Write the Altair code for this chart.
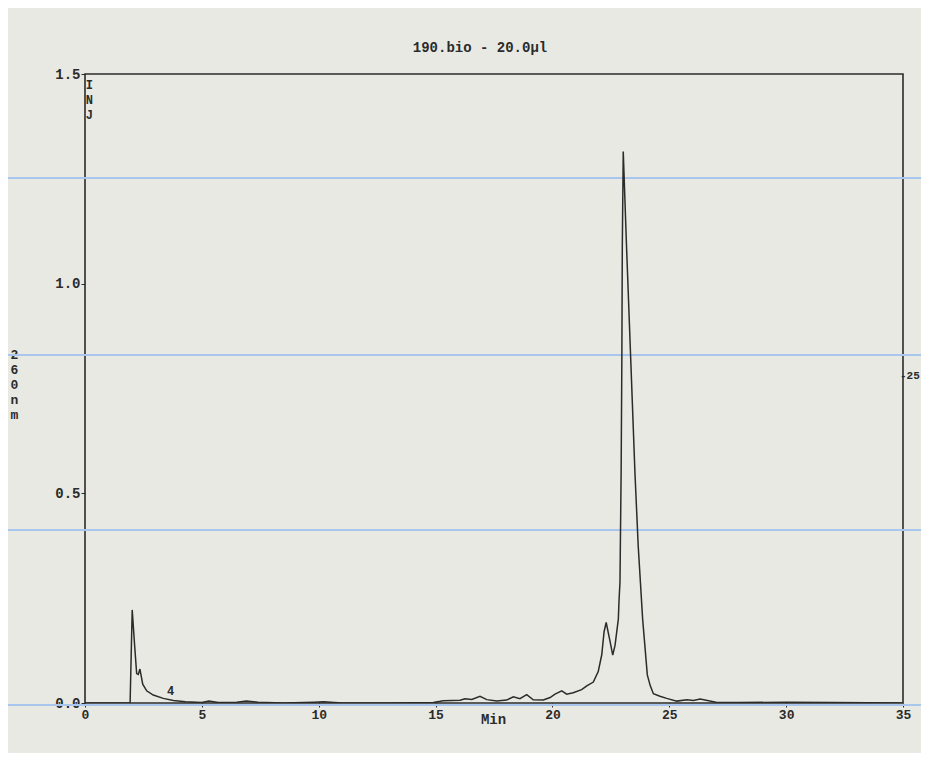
import altair as alt
import pandas as pd

# Retention time (min) and absorbance at 260 nm
minutes = [0.0, 1.0, 1.93, 2.02, 2.12, 2.21, 2.28, 2.35, 2.47, 2.64, 2.92, 3.35, 3.78, 4.3,
           5.0, 5.3, 5.7, 6.5, 6.9, 7.4, 8.5, 9.8, 10.2, 11.0, 13.0, 14.9, 15.2,
           15.33, 16.05, 16.26, 16.55, 16.90, 17.19, 17.62, 18.04, 18.33, 18.61, 18.90,
           19.18, 19.61, 19.90, 20.11, 20.40, 20.61, 20.89, 21.25, 21.47, 21.75, 21.96,
           22.11, 22.21, 22.30, 22.47, 22.58, 22.68, 22.82, 22.85, 22.89, 22.94, 22.97,
           22.99, 23.03, 23.17, 23.35, 23.53, 23.67, 23.86, 24.06, 24.18, 24.32, 24.60,
           24.89, 25.32, 25.75, 26.03, 26.32, 27.0, 28.0, 30.0, 32.0, 35.0]
absorb = [0.0, 0.0, 0.0, 0.222, 0.14, 0.07, 0.068, 0.081, 0.045, 0.029, 0.019, 0.011, 0.006, 0.003,
          0.001, 0.005, 0.001, 0.002, 0.005, 0.002, 0.0, 0.002, 0.003, 0.0, 0.0, 0.001, 0.004,
          0.0055, 0.0066, 0.010, 0.0085, 0.016, 0.008, 0.005, 0.007, 0.015, 0.0105, 0.020,
          0.0076, 0.0073, 0.013, 0.021, 0.029, 0.021, 0.0245, 0.032, 0.041, 0.05, 0.075,
          0.115, 0.17, 0.192, 0.146, 0.114, 0.138, 0.20, 0.245, 0.288, 0.553, 0.817,
          1.09, 1.315, 1.09, 0.82, 0.55, 0.375, 0.20, 0.067, 0.042, 0.022, 0.016,
          0.011, 0.0045, 0.008, 0.006, 0.0095, 0.002, 0.001, 0.002, 0.001, 0.0]

x_ticks = [0, 5, 10, 15, 20, 25, 30, 35]
y_ticks = [0.0, 0.5, 1.0, 1.5]

title_text = "190.bio - 20.0µl"
y_title = ["2", "6", "0", "n", "m"]
x_title = "Min"

# Annotations printed on the chromatogram
ann_text = ["I\nN\nJ", "4"]
ann_x = [0.08, 3.55]
ann_y = [1.486, 0.04]

# right-hand marker printed outside the frame
side_text = ["-25"]
side_x = [35.0]
side_y = [0.78]

# scan artefacts (light blue lines), pixel offsets from the plot top
scan_lines_px = [104, 281, 456, 631]

FONT = "Liberation Mono"
INK = "#2b2b2b"
BG = "#e9e9e4"

df = pd.DataFrame({"t": minutes, "a": absorb})
ann = pd.DataFrame({"label": ann_text, "t": ann_x, "a": ann_y})
side = pd.DataFrame({"label": side_text, "t": side_x, "a": side_y})

xs = alt.Scale(domain=[0, 35], nice=False, zero=False)
ys = alt.Scale(domain=[0, 1.5], nice=False)

line = alt.Chart(df).mark_line(color=INK, strokeWidth=1.5, clip=True).encode(
    x=alt.X("t:Q", scale=xs,
            axis=alt.Axis(values=x_ticks, title=x_title, format="d", grid=False, domain=False,
                          tickSize=4, tickColor=INK, labelPadding=1, titlePadding=-9,
                          labelFlush=False,
                          labelFont=FONT, titleFont=FONT, labelFontSize=13, titleFontSize=14,
                          labelFontWeight="bold", titleFontWeight="bold",
                          labelColor=INK, titleColor=INK, titleX=408)),
    y=alt.Y("a:Q", scale=ys,
            axis=alt.Axis(values=y_ticks, format=".1f", title=y_title, grid=False, domain=False,
                          tickSize=4, tickColor=INK, labelPadding=1, labelFlush=False,
                          labelFont=FONT, titleFont=FONT, labelFontSize=14, titleFontSize=13,
                          labelFontWeight="bold", titleFontWeight="bold",
                          labelColor=INK, titleColor=INK, titleAngle=0,
                          titleX=-71, titleY=274, titleAlign="center", titleBaseline="top",
                          titleLineHeight=15)),
)

lbl = alt.Chart(ann).mark_text(font=FONT, fontSize=12, fontWeight="bold", color=INK,
                               align="left", baseline="top", lineBreak="\n",
                               lineHeight=15, dx=-1).encode(
    x=alt.X("t:Q", scale=xs), y=alt.Y("a:Q", scale=ys), text="label:N")

side_lbl = alt.Chart(side).mark_text(font=FONT, fontSize=11, fontWeight="bold", color=INK,
                                     align="left", baseline="middle", dx=-3).encode(
    x=alt.X("t:Q", scale=xs), y=alt.Y("a:Q", scale=ys), text="label:N")

scan = [
    alt.Chart(df).mark_rule(color="#a8c6ee", strokeWidth=1, clip=False).encode(
        x=alt.value(-85), x2=alt.value(845), y=alt.value(p))
    for p in scan_lines_px
]

chart = alt.layer(*scan, line, lbl, side_lbl).properties(
    width=818, height=629,
    title=alt.TitleParams(title_text, font=FONT, fontSize=14, fontWeight="bold", color=INK,
                          anchor="middle", dx=-14, offset=12),
    background=BG,
    padding={"left": 77, "top": 66, "right": 18, "bottom": 50},
    autosize=alt.AutoSizeParams(type="none"),
).configure_view(stroke=INK, strokeWidth=1.6, fill=BG)

chart.save("out.html", embed_options={"renderer": "svg", "actions": False})
